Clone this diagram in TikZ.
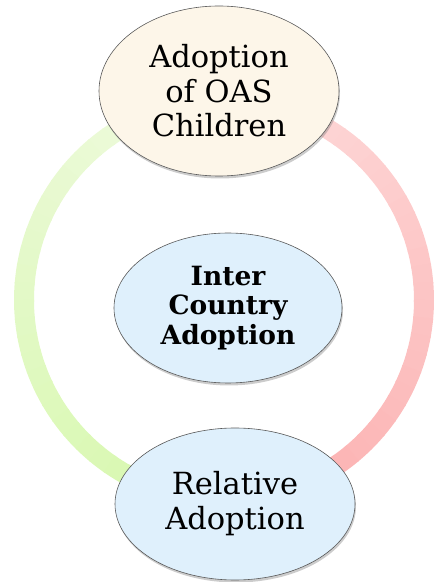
\documentclass[tikz,border=0pt]{standalone}
\usepackage{fontspec}
\setmainfont{DejaVu Serif}
\usetikzlibrary{shapes.geometric,shadows}

\definecolor{creamfill}{HTML}{FDF6E9}
\definecolor{bluefill}{HTML}{DFF0FC}
\definecolor{greenA}{HTML}{EFFADF}
\definecolor{greenB}{HTML}{D6F8AC}
\definecolor{pinkA}{HTML}{FDDADA}
\definecolor{pinkB}{HTML}{FCAEAE}

\begin{document}
\begin{tikzpicture}[x=1pt,y=1pt,
        ring/.style={line width=20pt},
        bubble/.style={ellipse, draw=black!65, line width=0.6pt, inner sep=0pt, align=center,
                drop shadow={opacity=0.4, shadow xshift=1pt, shadow yshift=-2.5pt}}]
        \useasboundingbox (0,0) rectangle (436,582);
        \coordinate (C) at (224,282);
        % ring, shaded piece by piece
        \foreach \i in {0,...,33}{
                \pgfmathtruncatemacro\p{100*\i/33}
                \draw[ring, greenB!\p!greenA] (C) ++(95+5*\i:200) arc[start angle=95+5*\i, end angle=100.5+5*\i, radius=200];
                \draw[ring, pinkB!\p!pinkA] (C) ++(85-5*\i:200) arc[start angle=85-5*\i, end angle=79.5-5*\i, radius=200];
        }
        \begin{scope}[every node/.style={bubble}]
                \node[fill=creamfill, minimum width=240pt, minimum height=170pt,
                        font=\fontsize{30.5}{34.5}\selectfont] (OAS) at (219,491) {Adoption\\of OAS\\Children};
                \node[fill=bluefill, minimum width=228pt, minimum height=150pt,
                        font=\fontsize{26.5}{29.5}\selectfont\bfseries] (ICA) at (228,274) {Inter\\Country\\Adoption};
                \node[fill=bluefill, minimum width=240pt, minimum height=152pt,
                        font=\fontsize{30.5}{35}\selectfont] (RA) at (235,78) {Relative\\Adoption};
        \end{scope}
\end{tikzpicture}
\end{document}
